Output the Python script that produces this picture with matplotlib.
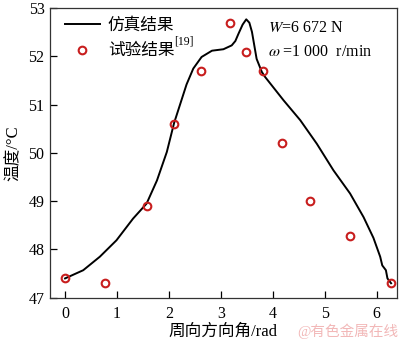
import matplotlib
matplotlib.use('Agg')
import matplotlib.pyplot as plt

plt.rcParams['font.family'] = ['Liberation Serif', 'Noto Sans CJK SC']
plt.rcParams['mathtext.fontset'] = 'stix'

# simulation curve
sim_x = [0.00, 0.35, 0.67, 0.99, 1.31, 1.57, 1.77, 1.96, 2.10, 2.22, 2.34, 2.47,
         2.63, 2.83, 3.05, 3.21, 3.28, 3.34, 3.42, 3.49, 3.55, 3.60, 3.69, 3.79,
         3.85, 4.21, 4.53, 4.85, 5.17, 5.49, 5.75, 5.94, 6.07, 6.11, 6.18, 6.21, 6.28]
sim_y = [47.40, 47.57, 47.85, 48.19, 48.64, 48.95, 49.43, 50.02, 50.62, 51.02, 51.42, 51.75,
         51.99, 52.12, 52.15, 52.23, 52.32, 52.47, 52.66, 52.77, 52.70, 52.51, 51.95, 51.68,
         51.58, 51.09, 50.68, 50.19, 49.64, 49.16, 48.67, 48.24, 47.85, 47.67, 47.57, 47.40, 47.30]

# experiment points
exp_x = [0.00, 0.77, 1.57, 2.10, 2.61, 3.17, 3.49, 3.82, 4.18, 4.71, 5.48, 6.28]
exp_y = [47.40, 47.30, 48.90, 50.61, 51.70, 52.70, 52.09, 51.70, 50.20, 49.00, 48.28, 47.30]

xticks = [0, 1, 2, 3, 4, 5, 6]
yticks = [47, 48, 49, 50, 51, 52, 53]

fig = plt.figure(figsize=(4.0, 3.43), dpi=100)
ax = fig.add_axes([0.125, 0.132, 0.867, 0.844])

ax.plot(sim_x, sim_y, color='black', lw=1.4, label='仿真结果')
ax.plot(exp_x, exp_y, linestyle='none', marker='o', ms=5.5, mfc='none',
        mec='#c81e1e', mew=1.5, label='试验结果')

ax.set_xlim(-0.29, 6.39)
ax.set_ylim(47, 53)
ax.set_xticks(xticks)
ax.set_yticks(yticks)
ax.tick_params(direction='in', length=5, width=0.9, labelsize=11.5, pad=4)
ax.tick_params(axis='x', pad=6)
for s in ax.spines.values():
    s.set_linewidth(0.9)
    s.set_color('#333333')

ax.set_xlabel('周向方向角/rad', fontsize=12, labelpad=1)
ax.set_ylabel('温度/°C', fontsize=12, labelpad=5)

ax.legend(loc='upper left', frameon=False, fontsize=12, handlelength=2.1,
          borderaxespad=0.2, labelspacing=0.55, handletextpad=0.5,
          bbox_to_anchor=(0.013, 1.0))
# reference mark after the second legend entry
ax.text(0.357, 0.885, '[19]', transform=ax.transAxes, fontsize=8.5,
        ha='left', va='center')

ax.text(0.63, 0.93, '$W$=6 672 N', transform=ax.transAxes, fontsize=11.5,
        ha='left', va='center')
ax.text(0.63, 0.85, r'$\omega$ =1 000  r/min', transform=ax.transAxes, fontsize=11.5,
        ha='left', va='center')

fig.text(0.995, 0.035, '@有色金属在线', color='#f2b8b8', fontsize=10.5,
         ha='right', va='center')

fig.savefig('out.png', dpi=100, facecolor='white')
